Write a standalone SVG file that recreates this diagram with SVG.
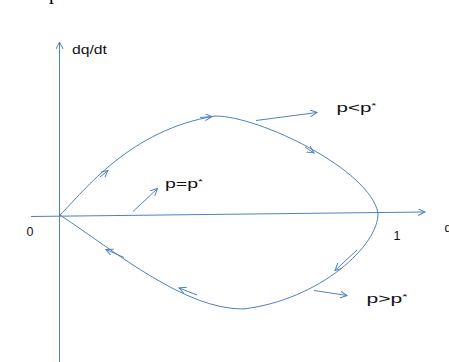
<svg xmlns="http://www.w3.org/2000/svg" width="449" height="362" viewBox="0 0 449 362">
<style>
.ln{fill:none;stroke:#4f81bd;stroke-width:1;}
.lb{font-family:"Liberation Sans",Arial,sans-serif;font-size:12.5px;fill:#111;}
.st{font-size:8px;}
.frag{font-family:"Liberation Serif","Times New Roman",serif;font-size:20px;fill:#000;}
</style>
<defs>
<marker id="ah" markerUnits="userSpaceOnUse" markerWidth="10" markerHeight="10" refX="7" refY="3.5" orient="auto">
<path d="M0,0 L7,3.5 L0,7" fill="none" stroke="#4f81bd" stroke-width="1"/>
</marker>
</defs>
<rect width="449" height="362" fill="#fff"/>
<g id="fragments">
<text class="frag" x="-6" y="-1">y</text>
<text class="frag" x="49" y="-1">p</text>
</g>
<g id="connectors">
<line id="y-axis" class="ln" x1="59.5" y1="362" x2="59.5" y2="42" marker-end="url(#ah)"/>
<line id="x-axis" class="ln" x1="31" y1="216.5" x2="425" y2="212" marker-end="url(#ah)"/>
<path id="cycle" class="ln" d="M60,215 C85,190 130,130 215,116 C260,116 370,170 378,213 C379,245 320,300 243,309 C185,309 120,255 60,215"/>
<line class="ln" x1="100" y1="177" x2="108" y2="170.5" marker-end="url(#ah)"/>
<line class="ln" x1="200" y1="117.5" x2="212" y2="116.5" marker-end="url(#ah)"/>
<line class="ln" x1="305" y1="147" x2="314" y2="153" marker-end="url(#ah)"/>
<line class="ln" x1="357" y1="250" x2="335" y2="270.5" marker-end="url(#ah)"/>
<line class="ln" x1="197" y1="295" x2="179" y2="288" marker-end="url(#ah)"/>
<line class="ln" x1="124" y1="257.5" x2="106" y2="249.5" marker-end="url(#ah)"/>
<line id="arrow-pless" class="ln" x1="256" y1="120.5" x2="317" y2="112.5" marker-end="url(#ah)"/>
<line id="arrow-peq" class="ln" x1="133" y1="211.5" x2="157.5" y2="188.5" marker-end="url(#ah)"/>
<line id="arrow-pgt" class="ln" x1="314" y1="290.5" x2="347" y2="295.5" marker-end="url(#ah)"/>
</g>
<g id="label-dqdt"><text class="lb" x="72" y="53.5" textLength="35" lengthAdjust="spacingAndGlyphs">dq/dt</text></g>
<g id="label-0"><text class="lb" x="26.5" y="236">0</text></g>
<g id="label-1"><text class="lb" x="393.5" y="239.5">1</text></g>
<g id="label-q"><text class="lb" x="444.5" y="232">q</text></g>
<g id="label-peq"><text class="lb" x="165" y="188" textLength="38" lengthAdjust="spacingAndGlyphs">p=p<tspan class="st" dy="-4">*</tspan></text></g>
<g id="label-pless"><text class="lb" x="336.5" y="111.5" textLength="40" lengthAdjust="spacingAndGlyphs">p&lt;p<tspan class="st" dy="-4">*</tspan></text></g>
<g id="label-pgt"><text class="lb" x="366.5" y="303" textLength="41" lengthAdjust="spacingAndGlyphs">p&gt;p<tspan class="st" dy="-4">*</tspan></text></g>
</svg>
